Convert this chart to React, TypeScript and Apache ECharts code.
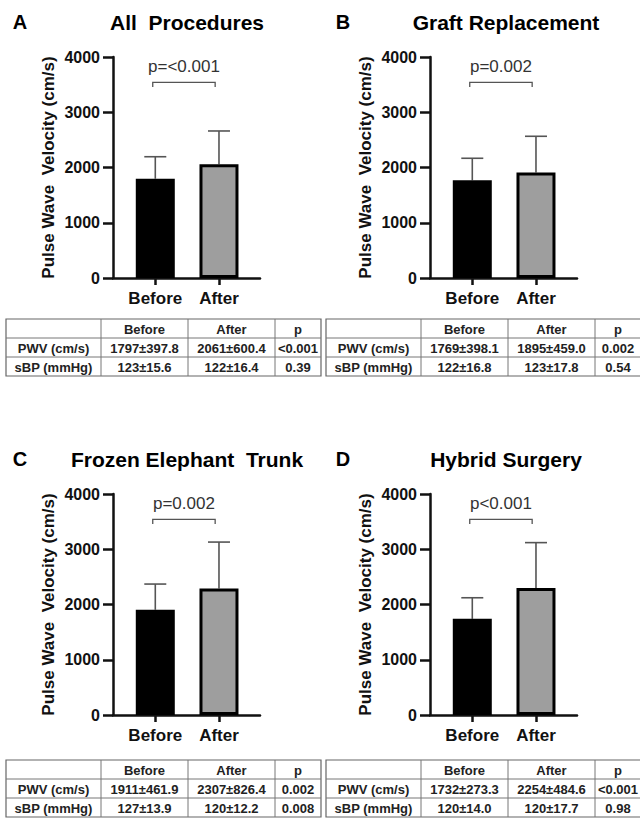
import React, { useEffect, useRef } from 'react';
import * as echarts from 'echarts';

// ---------- data ----------
const categories = ['Before', 'After'];
const panelLetters = ['A', 'B', 'C', 'D'];
const panelTitles = ['All  Procedures', 'Graft Replacement', 'Frozen Elephant  Trunk', 'Hybrid Surgery'];
// bar heights (mean PWV, cm/s) as drawn
const pwvMeanA = [1797, 2061];
const pwvMeanB = [1769, 1910];
const pwvMeanC = [1905, 2290];
const pwvMeanD = [1740, 2300];
// upper error bar lengths (SD) as drawn
const pwvSdA = [398, 600];
const pwvSdB = [398, 655];
const pwvSdC = [465, 840];
const pwvSdD = [382, 820];
const pLabels = ['p=<0.001', 'p=0.002', 'p=0.002', 'p<0.001'];
const yMin = 0;
const yMax = 4000;
const yInterval = 1000;
const yName = 'Pulse Wave  Velocity (cm/s)';
// tables
const tableHeader = ['', 'Before', 'After', 'p'];
const tableRowLabels = ['PWV (cm/s)', 'sBP (mmHg)'];
const tablePwvA = ['1797±397.8', '2061±600.4', '<0.001'];
const tableSbpA = ['123±15.6', '122±16.4', '0.39'];
const tablePwvB = ['1769±398.1', '1895±459.0', '0.002'];
const tableSbpB = ['122±16.8', '123±17.8', '0.54'];
const tablePwvC = ['1911±461.9', '2307±826.4', '0.002'];
const tableSbpC = ['127±13.9', '120±12.2', '0.008'];
const tablePwvD = ['1732±273.3', '2254±484.6', '<0.001'];
const tableSbpD = ['120±14.0', '120±17.7', '0.98'];

const means = [pwvMeanA, pwvMeanB, pwvMeanC, pwvMeanD];
const sds = [pwvSdA, pwvSdB, pwvSdC, pwvSdD];
const tables = [
  [tablePwvA, tableSbpA],
  [tablePwvB, tableSbpB],
  [tablePwvC, tableSbpC],
  [tablePwvD, tableSbpD],
];

// ---------- layout ----------
const FONT = '"Liberation Sans", Arial, Helvetica, sans-serif';
const offsets = [
  [0, 0],
  [317, 0],
  [0, 437],
  [317, 437],
];
const GRID_LEFT = 113;
const GRID_TOP = 57;
const GRID_W = 147;
const GRID_H = 221;
const X_MIN = -0.664;
const X_MAX = 1.644;
const BAR_COLORS = ['#000000', '#9e9e9e'];
const BRACKET_LEG = 3455;
const BRACKET_TOP = 3540;
const P_TEXT_Y = 3830;
const tableLeft = [6, 326, 6, 326];
const tableTop = [319, 319, 760, 760];
const tableCols = [0, 95, 182, 269, 315];
const ROW_H = 19;

function buildOption() {
  const grid: any[] = [];
  const xAxis: any[] = [];
  const yAxis: any[] = [];
  const series: any[] = [];
  const graphic: any[] = [];

  offsets.forEach(([ox, oy], i) => {
    grid.push({
      left: GRID_LEFT + ox,
      top: GRID_TOP + oy,
      width: GRID_W,
      height: GRID_H,
      outerBoundsMode: 'none',
      containLabel: false,
    });
    xAxis.push({
      type: 'value',
      gridIndex: i,
      min: X_MIN,
      max: X_MAX,
      splitLine: { show: false },
      axisLine: { show: true, onZero: false, lineStyle: { color: '#111', width: 2.5 } },
      axisTick: { show: true, customValues: [0, 1], length: 7, lineStyle: { color: '#111', width: 2.5 } },
      axisLabel: {
        show: true,
        customValues: [0, 1],
        formatter: (v: number) => categories[Math.round(v)] ?? '',
        color: '#111',
        fontFamily: FONT,
        fontWeight: 'bold',
        fontSize: 17,
        margin: 12,
      },
    });
    yAxis.push({
      type: 'value',
      gridIndex: i,
      min: yMin,
      max: yMax,
      interval: yInterval,
      name: yName,
      nameLocation: 'middle',
      nameRotate: 90,
      nameGap: 56,
      nameTextStyle: { color: '#111', fontFamily: FONT, fontWeight: 'bold', fontSize: 17 },
      splitLine: { show: false },
      axisLine: { show: true, onZero: false, lineStyle: { color: '#111', width: 2.5 } },
      axisTick: { show: true, length: 10, lineStyle: { color: '#111', width: 2.5 } },
      axisLabel: {
        color: '#111',
        fontFamily: FONT,
        fontWeight: 'bold',
        fontSize: 16,
        margin: 13,
        formatter: (v: number) => String(v),
      },
    });

    // error bars (under bars)
    series.push({
      type: 'custom',
      xAxisIndex: i,
      yAxisIndex: i,
      z: 1,
      data: means[i].map((m, k) => [k, m, sds[i][k]]),
      encode: { x: 0, y: 1 },
      renderItem: (params: any, api: any) => {
        const x = api.value(0);
        const m = api.value(1);
        const sd = api.value(2);
        const base = api.coord([x, m]);
        const top = api.coord([x, m + sd]);
        const st = { stroke: '#555', lineWidth: 1.6 };
        return {
          type: 'group',
          children: [
            { type: 'line', shape: { x1: base[0], y1: base[1], x2: top[0], y2: top[1] }, style: st },
            { type: 'line', shape: { x1: top[0] - 11, y1: top[1], x2: top[0] + 11, y2: top[1] }, style: st },
          ],
        };
      },
    });

    series.push({
      type: 'bar',
      xAxisIndex: i,
      yAxisIndex: i,
      z: 2,
      barWidth: 39,
      data: means[i].map((m, k) => ({
        value: [k, m],
        itemStyle: { color: BAR_COLORS[k], borderColor: '#000', borderWidth: 3 },
      })),
    });

    // significance bracket + p label
    series.push({
      type: 'custom',
      xAxisIndex: i,
      yAxisIndex: i,
      z: 3,
      data: [[0.45, P_TEXT_Y, i]],
      encode: { x: 0, y: 1 },
      renderItem: (params: any, api: any) => {
        const idx = api.value(2);
        const a = api.coord([-0.04, BRACKET_LEG]);
        const b = api.coord([-0.04, BRACKET_TOP]);
        const c = api.coord([0.94, BRACKET_TOP]);
        const d = api.coord([0.94, BRACKET_LEG]);
        const t = api.coord([0.45, P_TEXT_Y]);
        return {
          type: 'group',
          children: [
            {
              type: 'polyline',
              shape: { points: [a, b, c, d] },
              style: { stroke: '#555', lineWidth: 1.3, fill: null },
            },
            {
              type: 'text',
              x: t[0],
              y: t[1],
              style: {
                text: pLabels[idx],
                fill: '#333',
                font: `17px ${FONT}`,
                align: 'center',
                verticalAlign: 'middle',
              },
            },
          ],
        };
      },
    });

    // panel letter and title
    graphic.push({
      type: 'text',
      x: 20 + ox + (i % 2 === 1 ? 6 : 0),
      y: 22 + oy,
      style: {
        text: panelLetters[i],
        fill: '#000',
        font: `bold 20px ${FONT}`,
        align: 'center',
        verticalAlign: 'middle',
      },
    });
    graphic.push({
      type: 'text',
      x: 187 + ox + (i % 2 === 1 ? 2 : 0),
      y: 22 + oy,
      style: {
        text: panelTitles[i],
        fill: '#000',
        font: `bold 21px ${FONT}`,
        align: 'center',
        verticalAlign: 'middle',
      },
    });

    // table
    const L = tableLeft[i];
    const T = tableTop[i];
    const rows = [tableHeader, [tableRowLabels[0], ...tables[i][0]], [tableRowLabels[1], ...tables[i][1]]];
    const W = tableCols[tableCols.length - 1];
    graphic.push({
      type: 'rect',
      shape: { x: L, y: T, width: W, height: ROW_H * rows.length },
      style: { fill: '#fff', stroke: '#666', lineWidth: 1.2 },
    });
    for (let r = 1; r < rows.length; r++) {
      graphic.push({
        type: 'line',
        shape: { x1: L, y1: T + r * ROW_H, x2: L + W, y2: T + r * ROW_H },
        style: { stroke: '#777', lineWidth: 1 },
      });
    }
    for (let c = 1; c < tableCols.length - 1; c++) {
      graphic.push({
        type: 'line',
        shape: { x1: L + tableCols[c], y1: T, x2: L + tableCols[c], y2: T + ROW_H * rows.length },
        style: { stroke: '#777', lineWidth: 1 },
      });
    }
    rows.forEach((row, r) => {
      row.forEach((txt, c) => {
        if (!txt) return;
        graphic.push({
          type: 'text',
          x: L + (tableCols[c] + tableCols[c + 1]) / 2,
          y: T + r * ROW_H + ROW_H / 2 + 0.5,
          style: {
            text: txt,
            fill: '#222',
            font: `bold 13px ${FONT}`,
            align: 'center',
            verticalAlign: 'middle',
          },
        });
      });
    });
  });

  return {
    animation: false,
    backgroundColor: '#fff',
    grid,
    xAxis,
    yAxis,
    series,
    graphic,
  };
}

export default function App() {
  const ref = useRef<HTMLDivElement>(null);
  useEffect(() => {
    if (!ref.current) return;
    const chart = echarts.init(ref.current, null, { renderer: 'svg' });
    chart.setOption(buildOption() as any);
    return () => chart.dispose();
  }, []);
  return (
    <div
      ref={ref}
      style={{ position: 'absolute', left: 0, top: 0, width: 640, height: 818, background: '#fff' }}
    />
  );
}
